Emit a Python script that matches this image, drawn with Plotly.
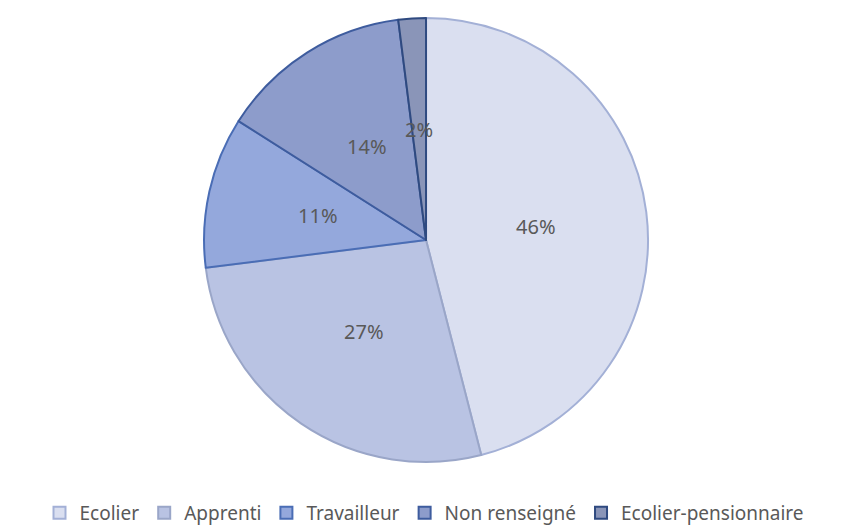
import math
import plotly.graph_objects as go

labels = ["Ecolier", "Apprenti", "Travailleur", "Non renseigné", "Ecolier-pensionnaire"]
values = [46, 27, 11, 14, 2]
fill_colors = ["#DADFF0", "#B9C3E3", "#94A8DC", "#8D9CCB", "#8A95B8"]
line_colors = ["#A3B0D6", "#9AA6C8", "#4A6DB5", "#3E5C9E", "#2F4A80"]

W, H = 849, 525
MB = 32                      # bottom margin reserved for the legend
P = H - MB                   # plot-area height in px
dom_x = [0.0036, 1.0]
dom_y = [0.0629, 0.9635]

fig = go.Figure(go.Pie(
    labels=labels,
    values=values,
    sort=False,
    direction="clockwise",
    rotation=0,
    marker=dict(colors=fill_colors, line=dict(color=line_colors, width=2)),
    textinfo="none",
    domain=dict(x=dom_x, y=dom_y),
    hoverinfo="label+percent",
))

# Data labels placed at half the radius along each slice's mid-angle
cx = (dom_x[0] + dom_x[1]) / 2
cy = (dom_y[0] + dom_y[1]) / 2
R_px = min((dom_x[1] - dom_x[0]) * W, (dom_y[1] - dom_y[0]) * P) / 2
total = sum(values)
cum = 0
annotations = []
for v in values:
    mid = (cum + v / 2) / total * 2 * math.pi
    cum += v
    r = 0.5 * R_px
    annotations.append(dict(
        x=cx + r * math.sin(mid) / W,
        y=cy + r * math.cos(mid) / P,
        xref="paper", yref="paper",
        text=f"{round(100 * v / total)}%",
        showarrow=False,
        font=dict(family="Noto Sans", size=20, color="#595959"),
        xanchor="center", yanchor="middle",
    ))

fig.update_layout(
    width=W, height=H,
    margin=dict(l=0, r=0, t=0, b=MB),
    paper_bgcolor="white",
    showlegend=True,
    legend=dict(
        orientation="h",
        xref="container", yref="container",
        x=0.5, xanchor="center",
        y=0.0229, yanchor="middle",
        font=dict(family="Noto Sans", size=19, color="#595959"),
        itemwidth=30,
    ),
    annotations=annotations,
)

fig.write_html("out.html", config={"displayModeBar": False},
               post_script="document.body.style.margin='0';")
